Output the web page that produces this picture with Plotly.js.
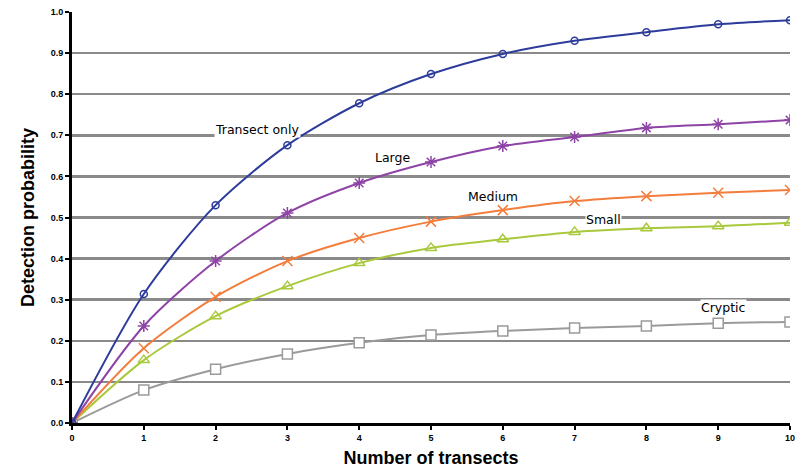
<!DOCTYPE html>
<html><head><meta charset="utf-8">
<script src="https://cdn.plot.ly/plotly-3.0.1.min.js"></script>
<style>html,body{margin:0;padding:0;background:#fff}#chart{width:807px;height:472px}</style>
</head><body><div id="chart"></div>
<script>
const transects = [0,1,2,3,4,5,6,7,8,9,10];
const transectOnly = [0,0.314,0.53,0.676,0.778,0.849,0.898,0.93,0.951,0.97,0.98];
const large = [0,0.236,0.394,0.511,0.584,0.635,0.674,0.696,0.718,0.727,0.737];
const medium = [0,0.182,0.307,0.394,0.45,0.49,0.518,0.54,0.552,0.56,0.567];
const small = [0,0.153,0.26,0.333,0.389,0.426,0.447,0.465,0.474,0.479,0.487];
const cryptic = [0,0.08,0.131,0.168,0.195,0.214,0.224,0.231,0.236,0.243,0.246];
const yTicks = [0,0.1,0.2,0.3,0.4,0.5,0.6,0.7,0.8,0.9,1.0];

function tr(y, color, symbol, size, fill){
  return {x: transects, y: y, mode:'lines+markers', type:'scatter',
    line:{color:color, width:2, shape:'spline', smoothing:0.8},
    marker:{symbol:symbol, size:size, color: fill || color, line:{color:color, width:1.5}},
    showlegend:false, hoverinfo:'none'};
}
const data = [
  tr(cryptic, '#9a9a9a', 'square', 10, '#ffffff'),
  tr(small, '#a9c93c', 'triangle-up-open', 10),
  tr(medium, '#f37d3c', 'x-thin-open', 10),
  tr(large, '#8e43a6', 'asterisk-open', 10),
  tr(transectOnly, '#2d3c9b', 'circle-open', 7)
];
const lblFont = {family:'DejaVu Sans, sans-serif', size:12.5, color:'#000'};
function ann(text, x, y){ return {x:x, y:y, xref:'x', yref:'y', text:text, showarrow:false, font:lblFont, bgcolor:'#ffffff', borderpad:0}; }
const layout = {
  width:807, height:472,
  margin:{l:72, r:17, t:12, b:49},
  paper_bgcolor:'#ffffff', plot_bgcolor:'#ffffff',
  xaxis:{range:[0,10], tickvals:transects, ticks:'outside', ticklen:4, tickwidth:2, tickcolor:'#000',
    showline:true, linecolor:'#000', linewidth:3, showgrid:false, zeroline:false,
    tickfont:{family:'Liberation Sans, Arial', size:9, color:'#000', weight:'bold'},
    title:{text:'<b>Number of transects</b>', font:{family:'Liberation Sans Narrow, Liberation Sans, Arial', size:18, color:'#000'}, standoff:10}},
  yaxis:{range:[0,1.0], tickvals:yTicks, tickformat:'.1f', ticks:'outside', ticklen:4, tickwidth:2, tickcolor:'#000',
    showline:true, linecolor:'#000', linewidth:3, showgrid:true, gridcolor:'#8a8a8a', gridwidth:2.5, zeroline:false,
    tickfont:{family:'Liberation Sans, Arial', size:9, color:'#000', weight:'bold'},
    title:{text:'<b>Detection probability</b>', font:{family:'Liberation Sans Narrow, Liberation Sans, Arial', size:18, color:'#000'}, standoff:12}},
  annotations:[
    ann('Transect only', 2.59, 0.713),
    ann('Large', 4.46, 0.647),
    ann('Medium', 5.86, 0.552),
    ann('Small', 7.40, 0.494),
    ann('Cryptic', 9.08, 0.28)
  ]
};
Plotly.newPlot('chart', data, layout, {displayModeBar:false, staticPlot:true});
</script></body></html>
